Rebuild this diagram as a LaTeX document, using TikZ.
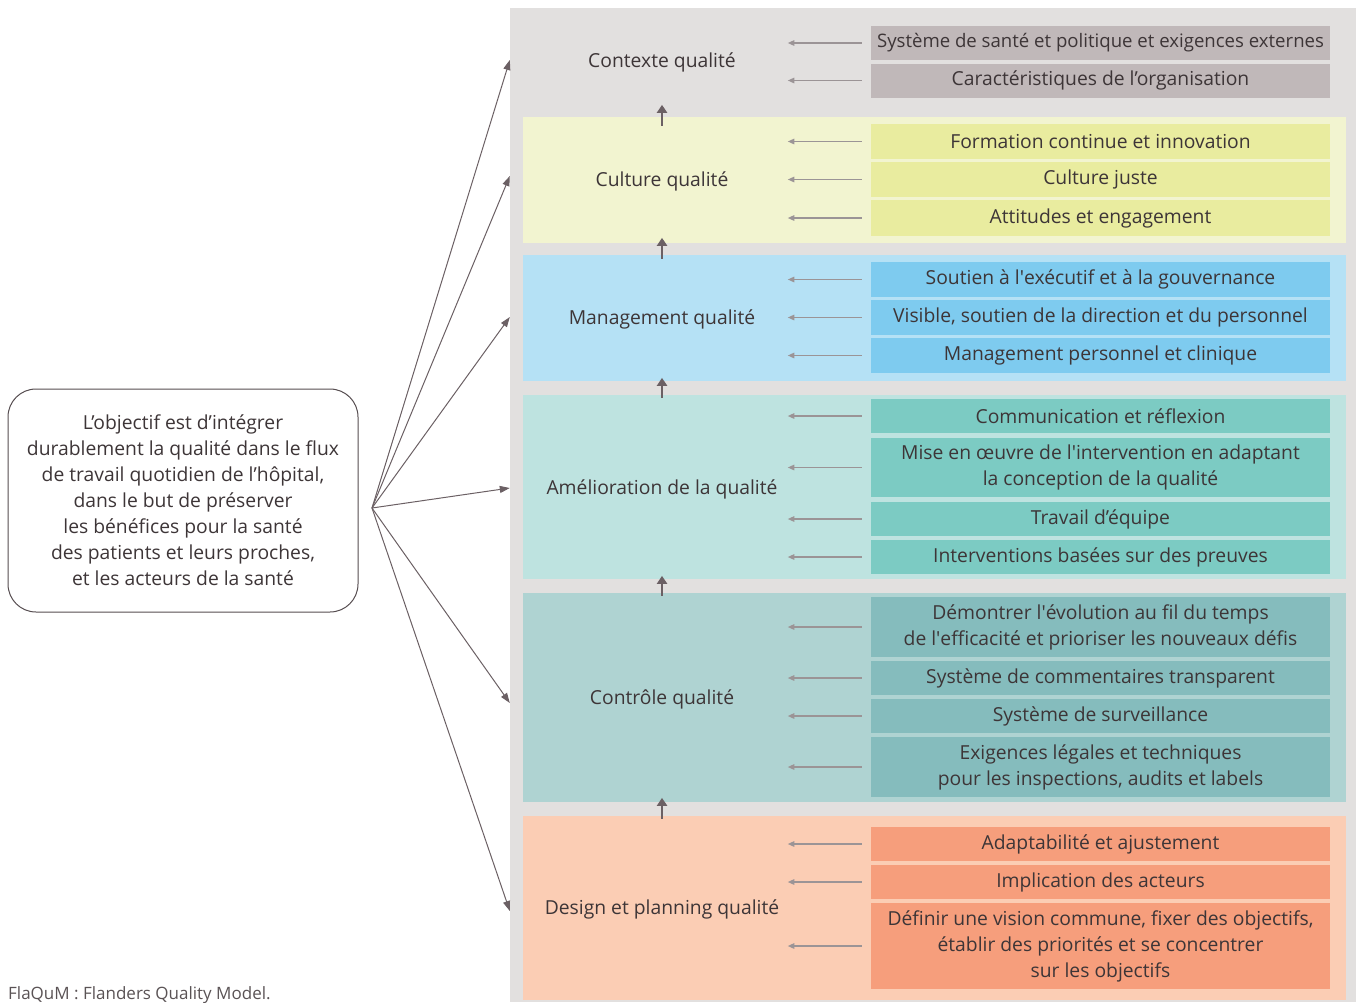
\documentclass[tikz,border=0pt]{standalone}
\usepackage{fontspec}
\setmainfont{Open Sans}
\usetikzlibrary{arrows.meta}
\definecolor{txt}{HTML}{3D3537}
\definecolor{bggray}{HTML}{E2E0DF}
\definecolor{ctxsub}{HTML}{C0B8B9}
\definecolor{culbg}{HTML}{F2F4D0}
\definecolor{culsub}{HTML}{E9EC9F}
\definecolor{manbg}{HTML}{B5E1F5}
\definecolor{mansub}{HTML}{7ECBEF}
\definecolor{amebg}{HTML}{BEE3E0}
\definecolor{amesub}{HTML}{7CCBC3}
\definecolor{conbg}{HTML}{AFD3D2}
\definecolor{consub}{HTML}{85BCBD}
\definecolor{desbg}{HTML}{FBCDB4}
\definecolor{dessub}{HTML}{F69E7C}
\definecolor{arrdark}{HTML}{6B6064}
\definecolor{arrlight}{HTML}{9B9496}
\newcommand{\mainsize}{\fontsize{19.3}{26}\selectfont}
\newcommand{\sq}{\textquotesingle}
\begin{document}
\begin{tikzpicture}[x=1pt,y=-1pt,
  every node/.style={text=txt},
  layerbox/.style={rectangle, inner sep=0pt, minimum width=823pt, draw=none},
  subbox/.style={rectangle, inner sep=0pt, minimum width=459pt, align=center, font=\mainsize},
  lbl/.style={font=\mainsize, inner sep=0pt},
  smallarr/.style={draw=arrlight, line width=1.3pt, -{Triangle[length=6.5pt,width=5.5pt]}},
  uparr/.style={draw=arrdark, line width=2.6pt, -{Triangle[length=8pt,width=10pt]}},
  fanarr/.style={draw=arrdark, line width=1pt, -{Triangle[length=10pt,width=7pt]}},
  goalbox/.style={draw=arrdark!80!black, line width=1pt, rounded corners=28pt, minimum width=350pt, minimum height=223pt, align=center, font=\mainsize, inner sep=0pt}
]
\useasboundingbox (0,0) rectangle (1361,1002);
% background
\node[rectangle, fill=bggray, inner sep=0pt, minimum width=846pt, minimum height=994pt] (gray) at (933,505) {};
% layers
\node[layerbox, minimum height=109pt] (ctx) at (934.5,62.5) {};
\node[layerbox, fill=culbg, minimum height=126pt] (cul) at (934.5,180) {};
\node[layerbox, fill=manbg, minimum height=126pt] (man) at (934.5,318) {};
\node[layerbox, fill=amebg, minimum height=184pt] (ame) at (934.5,487) {};
\node[layerbox, fill=conbg, minimum height=209pt] (con) at (934.5,697.5) {};
\node[layerbox, fill=desbg, minimum height=184pt] (des) at (934.5,908) {};
% layer labels
\node[lbl] (lctx) at (662,62) {Contexte qualité};
\node[lbl] (lcul) at (662,181) {Culture qualité};
\node[lbl] (lman) at (662,319) {Management qualité};
\node[lbl] (lame) at (662,489) {Amélioration de la qualité};
\node[lbl] (lcon) at (662,699) {Contrôle qualité};
\node[lbl] (ldes) at (662,909) {Design et planning qualité};
% sub boxes
\node[subbox, fill=ctxsub, minimum height=34pt, font=\fontsize{18.6}{26}\selectfont] (s11) at (1100.5,43) {Système de santé et politique et exigences externes};
\node[subbox, fill=ctxsub, minimum height=34pt] (s12) at (1100.5,80.5) {Caractéristiques de l’organisation};
\node[subbox, fill=culsub, minimum height=35pt] (s21) at (1100.5,141.5) {Formation continue et innovation};
\node[subbox, fill=culsub, minimum height=35pt] (s22) at (1100.5,179.5) {Culture juste};
\node[subbox, fill=culsub, minimum height=36pt] (s23) at (1100.5,218) {Attitudes et engagement};
\node[subbox, fill=mansub, minimum height=35pt] (s31) at (1100.5,279.5) {Soutien à l\sq exécutif et à la gouvernance};
\node[subbox, fill=mansub, minimum height=35pt] (s32) at (1100.5,317.5) {Visible, soutien de la direction et du personnel};
\node[subbox, fill=mansub, minimum height=35pt] (s33) at (1100.5,355.5) {Management personnel et clinique};
\node[subbox, fill=amesub, minimum height=34pt] (s41) at (1100.5,416) {Communication et réflexion};
\node[subbox, fill=amesub, minimum height=59pt] (s42) at (1100.5,467.5) {Mise en œuvre de l\sq intervention en adaptant\\la conception de la qualité};
\node[subbox, fill=amesub, minimum height=34pt] (s43) at (1100.5,519) {Travail d’équipe};
\node[subbox, fill=amesub, minimum height=34pt] (s44) at (1100.5,557) {Interventions basées sur des preuves};
\node[subbox, fill=consub, minimum height=60pt] (s51) at (1100.5,627) {Démontrer l\sq évolution au fil du temps\\de l\sq efficacité et prioriser les nouveaux défis};
\node[subbox, fill=consub, minimum height=34pt] (s52) at (1100.5,678) {Système de commentaires transparent};
\node[subbox, fill=consub, minimum height=34pt] (s53) at (1100.5,716) {Système de surveillance};
\node[subbox, fill=consub, minimum height=60pt] (s54) at (1100.5,767) {Exigences légales et techniques\\pour les inspections, audits et labels};
\node[subbox, fill=dessub, minimum height=34pt] (s61) at (1100.5,844) {Adaptabilité et ajustement};
\node[subbox, fill=dessub, minimum height=34pt] (s62) at (1100.5,882) {Implication des acteurs};
\node[subbox, fill=dessub, minimum height=86pt] (s63) at (1100.5,946) {Définir une vision commune, fixer des objectifs,\\établir des priorités et se concentrer\\sur les objectifs};
% small arrows
\foreach \s in {s11,s12,s21,s22,s23,s31,s32,s33,s41,s42,s43,s44,s51,s52,s53,s54,s61,s62,s63}
  \draw[smallarr] ([xshift=-9pt]\s.west) -- ([xshift=-83pt]\s.west);
% up arrows between layers
\draw[uparr] ([yshift=-9pt]cul.north -| lctx) -- ([yshift=12pt]cul.north -| lctx);
\draw[uparr] ([yshift=-4pt]man.north -| lctx) -- ([yshift=17pt]man.north -| lctx);
\draw[uparr] ([yshift=-3pt]ame.north -| lctx) -- ([yshift=17pt]ame.north -| lctx);
\draw[uparr] ([yshift=-3pt]con.north -| lctx) -- ([yshift=17pt]con.north -| lctx);
\draw[uparr] ([yshift=-3pt]des.north -| lctx) -- ([yshift=18pt]des.north -| lctx);
% goal box
\node[goalbox] (goal) at (183,500.5) {L’objectif est d’intégrer\\durablement la qualité dans le flux\\de travail quotidien de l’hôpital,\\dans le but de préserver\\les bénéfices pour la santé\\des patients et leurs proches,\\et les acteurs de la santé};
\coordinate (src) at (372,508);
\draw[fanarr] (src) -- ([yshift=2pt]gray.west |- lctx);
\draw[fanarr] (src) -- ([yshift=5pt]gray.west |- lcul);
\draw[fanarr] (src) -- ([yshift=2pt]gray.west |- lman);
\draw[fanarr] (src) -- ([yshift=1pt]gray.west |- lame);
\draw[fanarr] (src) -- ([yshift=-4pt]gray.west |- lcon);
\draw[fanarr] (src) -- ([yshift=-2pt]gray.west |- ldes);
% caption
\node[anchor=base west, inner sep=0pt, font=\fontsize{17}{20}\selectfont, text=txt!85] (cap) at (8,999) {FlaQuM : Flanders Quality Model.};
\end{tikzpicture}
\end{document}
